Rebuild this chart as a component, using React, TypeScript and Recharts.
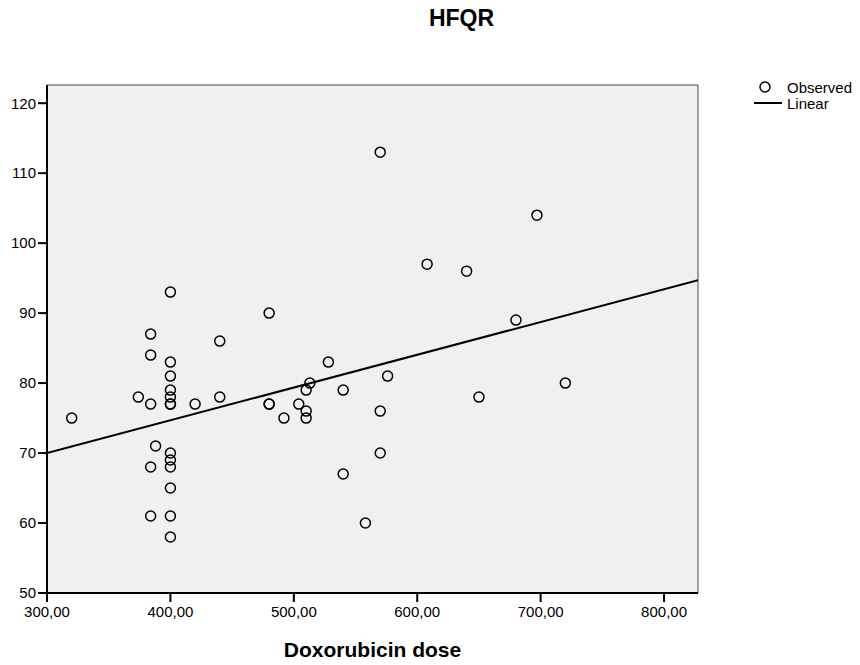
import React from 'react';
import {
  ComposedChart,
  Scatter,
  Line,
  XAxis,
  YAxis,
  ReferenceArea,
  Legend,
} from 'recharts';

// doxorubicin dose vs HFQR score
const doses = [
  320, 374, 384, 384, 384, 384, 384, 388, 400, 400, 400, 400, 400, 400, 400, 400,
  400, 400, 400, 400, 400, 420, 440, 440, 480, 480, 480, 492, 504, 510, 510, 510,
  513, 528, 540, 540, 558, 570, 570, 570, 576, 608, 640, 650, 680, 697, 720,
];
const hfqr = [
  75, 78, 87, 84, 77, 68, 61, 71, 93, 83, 81, 79, 78, 77, 77, 70,
  69, 68, 65, 61, 58, 77, 86, 78, 90, 77, 77, 75, 77, 79, 76, 75,
  80, 83, 79, 67, 60, 113, 76, 70, 81, 97, 96, 78, 89, 104, 80,
];

// fitted linear line end points
const fitX = [300, 827.5];
const fitY = [70.0, 94.7];

const xTicks = [300, 400, 500, 600, 700, 800];
const yTicks = [50, 60, 70, 80, 90, 100, 110, 120];
const xDomain = [300, 827.5];
const yDomain = [50, 122.6];

const observed = doses.map((d, i) => ({ dose: d, score: hfqr[i] }));
const linear = fitX.map((d, i) => ({ dose: d, fit: fitY[i] }));

const FONT = '"Liberation Sans", Arial, sans-serif';

const Ring = (props: any) => (
  <circle cx={props.cx} cy={props.cy} r={5} fill="none" stroke="#000" strokeWidth={1.5} />
);

const LegendBox = () => (
  <svg width={110} height={40} style={{ display: 'block' }}>
    <circle cx={15} cy={11} r={5} fill="none" stroke="#000" strokeWidth={1.5} />
    <text x={37} y={16.5} fontSize={15} fontFamily={FONT} fill="#000">Observed</text>
    <line x1={4} x2={32} y1={27} y2={27} stroke="#000" strokeWidth={2} />
    <text x={37} y={32.5} fontSize={15} fontFamily={FONT} fill="#000">Linear</text>
  </svg>
);

const fmt = (v: number) => v.toFixed(2).replace('.', ',');

export default function App() {
  return (
    <div style={{ position: 'absolute', left: 0, top: 0, width: 860, height: 665, background: '#fff' }}>
      <div
        style={{
          position: 'absolute',
          top: 6.5,
          left: 0,
          width: 923,
          textAlign: 'center',
          fontFamily: FONT,
          fontWeight: 'bold',
          fontSize: 23,
          lineHeight: '23px',
        }}
      >
        HFQR
      </div>
      <ComposedChart
        width={860}
        height={665}
        margin={{ top: 85, right: 162, bottom: 0, left: 0 }}
      >
        <ReferenceArea
          x1={xDomain[0]}
          x2={xDomain[1]}
          y1={yDomain[0]}
          y2={yDomain[1]}
          fill="#f0f0f0"
          fillOpacity={1}
          stroke="#444"
          strokeWidth={1}
        />
        <XAxis
          type="number"
          dataKey="dose"
          domain={xDomain}
          ticks={xTicks}
          allowDataOverflow
          tickFormatter={fmt}
          height={72}
          tickSize={9}
          tickMargin={4}
          axisLine={{ stroke: '#000', strokeWidth: 2 }}
          tickLine={{ stroke: '#000', strokeWidth: 2 }}
          tick={{ fill: '#000', fontSize: 15, fontFamily: FONT }}
          label={{
            content: (p: any) => {
              const vb = p.viewBox;
              return (
                <text
                  x={vb.x + vb.width / 2}
                  y={657}
                  textAnchor="middle"
                  fontSize={21}
                  fontWeight="bold"
                  fontFamily={FONT}
                  fill="#000"
                >
                  Doxorubicin dose
                </text>
              );
            },
          }}
        />
        <YAxis
          type="number"
          dataKey="score"
          domain={yDomain}
          ticks={yTicks}
          allowDataOverflow
          width={47}
          tickSize={9}
          tickMargin={2}
          axisLine={{ stroke: '#000', strokeWidth: 2 }}
          tickLine={{ stroke: '#000', strokeWidth: 2 }}
          tick={{ fill: '#000', fontSize: 15, fontFamily: FONT }}
        />
        <Scatter
          name="Observed"
          data={observed}
          dataKey="score"
          shape={Ring}
          isAnimationActive={false}
        />
        <Line
          name="Linear"
          data={linear}
          dataKey="fit"
          type="linear"
          stroke="#000"
          strokeWidth={2}
          dot={false}
          activeDot={false}
          isAnimationActive={false}
        />
        <Legend
          layout="horizontal"
          verticalAlign="middle"
          align="center"
          content={<LegendBox />}
          wrapperStyle={{ position: 'absolute', top: 76, left: 750, width: 110 }}
        />
      </ComposedChart>
    </div>
  );
}
